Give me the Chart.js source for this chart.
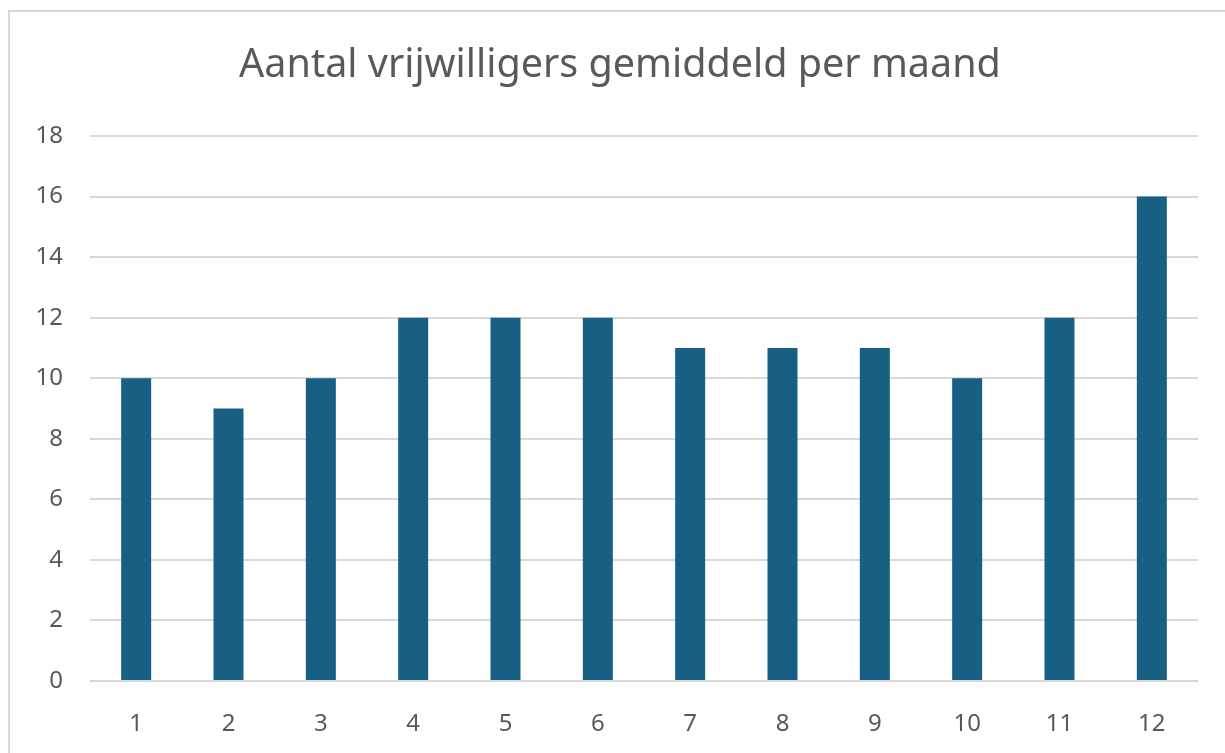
<!DOCTYPE html>
<html>
<head>
<meta charset="utf-8">
<script src="https://cdn.jsdelivr.net/npm/chart.js@4.4.1/dist/chart.umd.min.js"></script>
<style>
  html, body { margin: 0; padding: 0; background: #ffffff; overflow: hidden; }
  #frame {
    position: absolute; left: 8px; top: 10px; width: 1300px; height: 800px;
    border-left: 2px solid #d9d9d9; border-top: 2px solid #d9d9d9;
  }
  #wrap { position: absolute; left: 0; top: 0; width: 1225px; height: 753px; }
</style>
</head>
<body>
<div id="frame"></div>
<div id="wrap"><canvas id="chart" width="1225" height="753"></canvas></div>
<script>
// maanden en gemiddeld aantal vrijwilligers
const maanden = ['1', '2', '3', '4', '5', '6', '7', '8', '9', '10', '11', '12'];
const vrijwilligers = [10, 9, 10, 12, 12, 12, 11, 11, 11, 10, 12, 16];
const yTicks = [0, 2, 4, 6, 8, 10, 12, 14, 16, 18];
const titel = 'Aantal vrijwilligers gemiddeld per maand';

const tekstKleur = '#595959';
const fontNaam = "'Noto Sans', 'Open Sans', sans-serif";

// titel iets rechts van het midden, zoals in het origineel
const titelPlugin = {
    id: 'titelPlugin',
    afterDraw(chart) {
        const c = chart.ctx;
        c.save();
        c.fillStyle = tekstKleur;
        c.font = "39.5px " + fontNaam;
        c.textAlign = 'center';
        c.textBaseline = 'middle';
        c.fillText(titel, 620, 66);
        c.restore();
    }
};

const ctx = document.getElementById('chart').getContext('2d');
new Chart(ctx, {
    type: 'bar',
    data: {
        labels: maanden,
        datasets: [{
            label: 'Vrijwilligers',
            data: vrijwilligers,
            backgroundColor: '#185f84',
            borderWidth: 0,
            barPercentage: 0.325,
            categoryPercentage: 1
        }]
    },
    plugins: [titelPlugin],
    options: {
        responsive: false,
        animation: false,
        layout: { padding: { left: 0, right: 27, top: 136, bottom: 0 } },
        plugins: {
            legend: { display: false },
            tooltip: { enabled: false },
            title: { display: false }
        },
        scales: {
            x: {
                grid: { display: false },
                border: { display: false },
                ticks: {
                    color: tekstKleur,
                    font: { family: fontNaam, size: 24 },
                    padding: 21
                },
                afterFit: (scale) => { scale.height = 72; }
            },
            y: {
                min: 0,
                max: 18,
                afterBuildTicks: (scale) => {
                    scale.ticks = yTicks.map(v => ({ value: v }));
                },
                grid: { color: '#d9d9d9', lineWidth: 2, drawTicks: false },
                border: { display: false },
                ticks: {
                    color: tekstKleur,
                    font: { family: fontNaam, size: 24 },
                    padding: 27
                },
                afterFit: (scale) => { scale.width = 90; }
            }
        }
    }
});
</script>
</body>
</html>
